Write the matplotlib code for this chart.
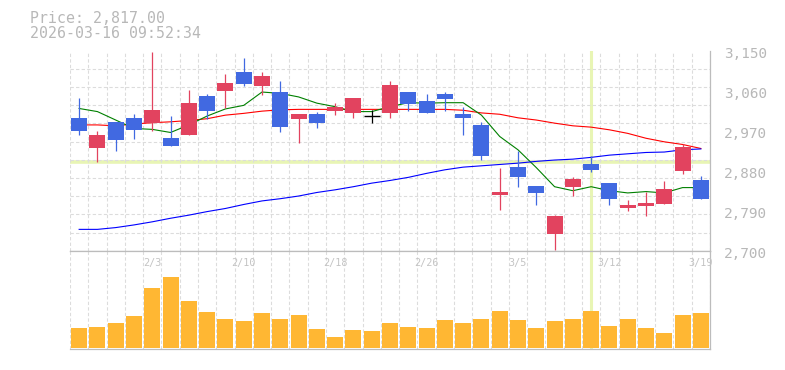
import matplotlib
matplotlib.use("Agg")
import matplotlib.pyplot as plt
import matplotlib.transforms as mtransforms
import numpy as np

plt.rcParams['lines.scale_dashes'] = False

# Свечи: открытие, максимум, минимум, закрытие
opens  = [2999, 2932, 2990, 2999, 2988, 2954, 2960, 3048, 3059, 3102,
          3071, 3057, 2996, 3008, 3015, 3010, 3002, 3010, 3057, 3037,
          3053, 3008, 2983, 2826, 2888, 2846, 2738, 2844, 2895, 2852,
          2797, 2801, 2806, 2880, 2859]
highs  = [3044, 2970, 2990, 3008, 3147, 3003, 3062, 3053, 3098, 3134,
          3102, 3082, 3008, 3012, 3032, 3044, 3017, 3082, 3057, 3053,
          3057, 3023, 2990, 2886, 2925, 2846, 2780, 2866, 2913, 2852,
          2814, 2833, 2857, 2940, 2869]
lows   = [2961, 2900, 2925, 2951, 2970, 2936, 2960, 2996, 3021, 3071,
          3050, 2968, 2943, 2975, 3006, 2999, 2988, 2999, 3015, 3010,
          3015, 2961, 2903, 2792, 2844, 2803, 2702, 2824, 2876, 2803,
          2790, 2779, 2806, 2873, 2817]
closes = [2970, 2960, 2948, 2972, 3017, 2936, 3032, 3015, 3077, 3076,
          3093, 2979, 3008, 2988, 3023, 3044, 3002, 3073, 3031, 3010,
          3041, 2999, 2914, 2832, 2866, 2830, 2778, 2861, 2882, 2817,
          2803, 2808, 2839, 2933, 2817]

# Скользящие средние
ma_short = [3020, 3013, 2994, 2975, 2973, 2966, 2983, 3003, 3019, 3027,
            3057, 3054, 3046, 3032, 3024, 3013, 3013, 3024, 3033, 3032,
            3033, 3033, 3005, 2957, 2927, 2887, 2844, 2835, 2844, 2835,
            2830, 2833, 2830, 2842, 2842]
ma_mid   = [2983, 2983, 2981, 2985, 2988, 2990, 2993, 2997, 3005, 3009,
            3014, 3017, 3018, 3018, 3018, 3018, 3018, 3018, 3018, 3018,
            3018, 3016, 3010, 3007, 2999, 2994, 2987, 2981, 2978, 2972,
            2964, 2953, 2945, 2939, 2930]
ma_long  = [2748, 2748, 2752, 2758, 2765, 2773, 2780, 2788, 2795, 2804,
            2812, 2817, 2823, 2831, 2837, 2844, 2852, 2858, 2865, 2874,
            2882, 2888, 2891, 2894, 2897, 2901, 2904, 2906, 2910, 2915,
            2918, 2921, 2922, 2927, 2929]

# Объём (тыс. шт.)
volumes = [197, 207, 247, 317, 597, 707, 467, 357, 287, 267,
           347, 287, 327, 187, 107, 177, 167, 247, 207, 197,
           277, 247, 287, 367, 277, 197, 267, 287, 367, 217,
           287, 197, 147, 327, 347]

date_labels = ['2/3', '2/10', '2/18', '2/26', '3/5', '3/12', '3/19']
date_index  = [4, 9, 14, 19, 24, 29, 34]

price_ticks = [2700, 2790, 2880, 2970, 3060, 3150]
header_price = "Price: 2,817.00"
header_time = "2026-03-16 09:52:34"
cross_index = 28
cross_price = 2900

UP = '#e2435f'
DOWN = '#4169e1'
GRID = '#dcdcdc'
FRAME = '#bcbcbc'
TEXT = '#b8b8b8'
CROSS = '#e8f5b4'
MONO = 'DejaVu Sans Mono'

W, H = 785, 370
fig = plt.figure(figsize=(W / 100, H / 100), dpi=100)
ax = fig.add_axes([70 / W, (H - 250.7) / H, 640 / W, 200 / H])
axv = fig.add_axes([70 / W, (H - 349.3) / H, 640 / W, 98.6 / H], sharex=ax)

x = np.arange(len(opens))
o = np.array(opens)
c = np.array(closes)

# фон: перекрестие
ax.axvline(cross_index, color=CROSS, lw=2.2, zorder=0.5)
ax.axhline(cross_price, color=CROSS, lw=2.6, zorder=0.5)
axv.axvline(cross_index, color=CROSS, lw=2.2, zorder=0.5)

# средние
ax.plot(x, ma_mid, color='#ff0000', lw=0.8, zorder=2)
ax.plot(x, ma_short, color='#008000', lw=0.8, zorder=2)
ax.plot(x, ma_long, color='#0000ff', lw=0.8, zorder=2)

# свечи
colors = np.where(c > o, UP, np.where(c < o, DOWN, 'black'))
ax.vlines(x, lows, highs, colors=colors, lw=0.9, zorder=3)
body = c != o
ax.bar(x[body], np.abs(c - o)[body], bottom=np.minimum(o, c)[body],
       width=0.875, color=colors[body], zorder=4)
ax.hlines(o[~body], x[~body] - 0.44, x[~body] + 0.44, colors='black', lw=1.0, zorder=4)

# объём
axv.bar(x, volumes, width=0.875, color='#ffb733', zorder=3)

ax.set_xlim(-0.5, len(opens) - 0.5)
ax.set_ylim(2700, 3150)
axv.set_ylim(-16, 970)

# сетка
ax.set_yticks(price_ticks)
ax.set_yticklabels([f"{v:,}" for v in price_ticks])
ax.set_yticks(2700 + np.arange(12) * 450 / 11, minor=True)
ax.set_xticks(np.arange(-0.5, len(opens), 1), minor=True)
ax.set_xticks([])
axv.set_yticks([])
for a in (ax, axv):
    a.grid(which='minor', color=GRID, lw=0.8, dashes=(2.4, 1.6))
    a.tick_params(which='both', length=0)
    a.spines['left'].set_visible(False)
    for s in ('top', 'bottom', 'right'):
        a.spines[s].set_color(FRAME)
        a.spines[s].set_linewidth(0.9)
ax.spines['top'].set_visible(False)
axv.yaxis.grid(False, which='both')

ax.yaxis.tick_right()
ax.tick_params(axis='y', which='major', pad=10, labelsize=10.4, labelcolor=TEXT)
shift = mtransforms.ScaledTranslation(0, -0.02, fig.dpi_scale_trans)
for lab in ax.get_yticklabels():
    lab.set_fontfamily(MONO)
    lab.set_transform(lab.get_transform() + shift)

# подписи дат
for i, lab in zip(date_index, date_labels):
    axv.text(i, 0.845, lab, transform=axv.get_xaxis_transform(), ha='center',
             va='baseline', fontsize=7.3, color='#c4c4c4', family=MONO, zorder=5)

# заголовок
fig.text(30 / W, 1 - 23.3 / H, header_price, va='baseline', family=MONO,
         fontsize=10.7, color=TEXT)
fig.text(30 / W, 1 - 38.3 / H, header_time, va='baseline', family=MONO,
         fontsize=10.7, color=TEXT)

fig.savefig("out.png", dpi=100, facecolor='white')
